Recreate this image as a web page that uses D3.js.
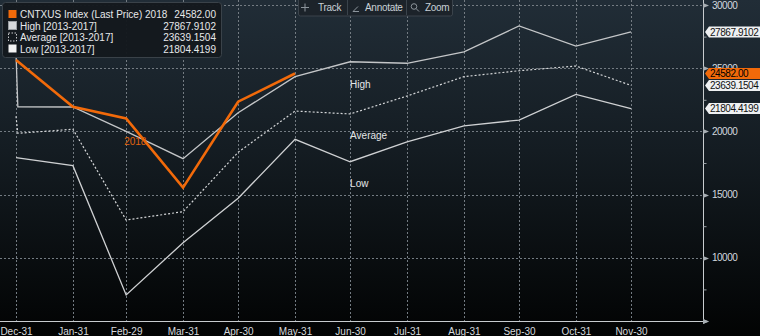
<!DOCTYPE html>
<html>
<head>
<meta charset="utf-8">
<script src="https://cdn.jsdelivr.net/npm/d3@7"></script>
<style>
  html, body { margin: 0; padding: 0; background: #000; }
  svg { display: block; font-family: "Liberation Sans", Arial, sans-serif; }
</style>
</head>
<body>
<svg id="chart" width="760" height="336"></svg>
<script>
// Seasonal comparison: 2018 month-end prices against the 2013-2017 range
const dates = ["2015-12-31", "2016-01-01", "2016-01-31", "2016-02-29", "2016-03-31", "2016-04-30",
               "2016-05-31", "2016-06-30", "2016-07-31", "2016-08-31", "2016-09-30", "2016-10-31", "2016-11-30"];
const tickDates = ["2015-12-31", "2016-01-31", "2016-02-29", "2016-03-31", "2016-04-30", "2016-05-31",
                   "2016-06-30", "2016-07-31", "2016-08-31", "2016-09-30", "2016-10-31", "2016-11-30"];
const tickLabels = ["Dec-31", "Jan-31", "Feb-29", "Mar-31", "Apr-30", "May-31",
                    "Jun-30", "Jul-31", "Aug-31", "Sep-30", "Oct-31", "Nov-30"];
const price2018 = [25650, null, 21950, 21030, 15550, 22350, 24582.00, null, null, null, null, null, null];
const high = [26200, 21950, 21930, 20000, 17840, 21480, 24330, 25510, 25390, 26300, 28340, 26750, 27867.9102];
const average = [21200, 19850, 20170, 12990, 13650, 18350, 21610, 21380, 22800, 24330, 24800, 25170, 23639.1504];
const low = [17920, null, 17290, 7060, 11190, 14710, 19370, 17600, 19180, 20430, 20900, 22930, 21804.4199];
const yTicks = [10000, 15000, 20000, 25000, 30000];
const legendNames = ["CNTXUS Index (Last Price) 2018", "High [2013-2017]", "Average [2013-2017]", "Low [2013-2017]"];
const legendValues = ["24582.00", "27867.9102", "23639.1504", "21804.4199"];

const W = 760, H = 336;
const axisX = 703, axisY = 321;
const parse = d3.utcParse("%Y-%m-%d");
const svg = d3.select("#chart");

const x = d3.scaleUtc().domain([parse(tickDates[0]), parse(tickDates[tickDates.length - 1])]).range([16, 631]);
const y = d3.scaleLinear().domain([5000, 30000]).range([axisY, 5]);

// background
const defs = svg.append("defs");
const grad = defs.append("linearGradient").attr("id", "bg").attr("x1", 0).attr("y1", 0).attr("x2", 0).attr("y2", 1);
grad.append("stop").attr("offset", "0%").attr("stop-color", "#212d37");
grad.append("stop").attr("offset", "45%").attr("stop-color", "#141c22");
grad.append("stop").attr("offset", "100%").attr("stop-color", "#020303");
svg.append("rect").attr("width", W).attr("height", H).attr("fill", "url(#bg)");

// grid
const grid = svg.append("g").attr("stroke", "#737b82").attr("stroke-width", 1).attr("stroke-dasharray", "2,2");
grid.selectAll("line.h").data(yTicks).join("line")
  .attr("x1", 0).attr("x2", axisX).attr("y1", d => Math.round(y(d)) + 0.5).attr("y2", d => Math.round(y(d)) + 0.5);
grid.selectAll("line.v").data(tickDates).join("line")
  .attr("y1", 0).attr("y2", axisY).attr("x1", d => Math.round(x(parse(d))) + 0.5).attr("x2", d => Math.round(x(parse(d))) + 0.5);

// series lines
function series(values) {
  return dates.map((d, i) => ({ date: parse(d), v: values[i] })).filter(p => p.v != null);
}
const line = d3.line().x(d => x(d.date)).y(d => y(d.v));
svg.append("path").datum(series(low)).attr("d", line)
  .attr("fill", "none").attr("stroke", "#cfd1d3").attr("stroke-width", 1.3);
svg.append("path").datum(series(average)).attr("d", line)
  .attr("fill", "none").attr("stroke", "#d4d6d8").attr("stroke-width", 1.2).attr("stroke-dasharray", "2,2");
svg.append("path").datum(series(high)).attr("d", line)
  .attr("fill", "none").attr("stroke", "#c4c6c8").attr("stroke-width", 1.3);
svg.append("path").datum(series(price2018)).attr("d", line)
  .attr("fill", "none").attr("stroke", "#f26a0a").attr("stroke-width", 2.6).attr("stroke-linejoin", "miter");

// inline labels
const lbl = svg.append("g").attr("font-size", "10px");
lbl.append("text").attr("x", x(parse("2016-06-30"))).attr("y", y(23700)).attr("dy", "0.35em").attr("fill", "#e4e6e8").text("High");
lbl.append("text").attr("x", x(parse("2016-06-30"))).attr("y", y(19650)).attr("dy", "0.35em").attr("fill", "#e4e6e8").text("Average");
lbl.append("text").attr("x", x(parse("2016-06-30"))).attr("y", y(15850)).attr("dy", "0.35em").attr("fill", "#e4e6e8").text("Low");
lbl.append("text").attr("x", x(parse("2016-02-29")) - 2).attr("y", y(19200)).attr("dy", "0.35em").attr("fill", "#e0640e").text("2018");

// axes
const axes = svg.append("g");
axes.append("line").attr("x1", 0).attr("x2", axisX).attr("y1", axisY + 0.5).attr("y2", axisY + 0.5).attr("stroke", "#c8cccf");
axes.append("line").attr("x1", axisX + 0.5).attr("x2", axisX + 0.5).attr("y1", 0).attr("y2", axisY + 1).attr("stroke", "#c8cccf");
axes.append("path").attr("d", `M${axisX},${axisY - 2}L${axisX + 6},${axisY + 0.5}L${axisX},${axisY + 3}Z`).attr("fill", "#9aa0a5");

const yAxis = d3.axisRight(y).tickValues(d3.range(7500, 30000, 2500)).tickSize(3).tickFormat("");
axes.append("g").attr("transform", `translate(${axisX + 0.5},0)`).call(yAxis)
  .call(g => g.select(".domain").remove())
  .call(g => g.selectAll("line").attr("stroke", "#9aa0a5"));

axes.selectAll("path.tri").data([5000].concat(yTicks)).join("path")
  .attr("d", d => { const yy = Math.round(y(d)) + 0.5; return `M${axisX},${yy - 2.5}L${axisX + 6},${yy}L${axisX},${yy + 2.5}Z`; })
  .attr("fill", "#a8aeb3");

axes.selectAll("text.yl").data(yTicks).join("text")
  .attr("x", 712).attr("y", d => y(d)).attr("dy", "0.35em")
  .attr("fill", "#d2d8de").attr("font-size", "10px").attr("letter-spacing", "-0.5px").text(d => d);

const xAxis = d3.axisBottom(x).tickValues(tickDates.map(parse)).tickSize(0)
  .tickFormat((d, i) => tickLabels[i]);
axes.append("g").attr("transform", `translate(0,${axisY + 1})`).call(xAxis)
  .call(g => g.select(".domain").remove())
  .call(g => g.selectAll("text").attr("fill", "#d6d9dc").attr("font-size", "10px")
    .attr("font-family", "Liberation Sans, Arial, sans-serif").attr("dy", "0.95em"));

// last-value tags
const tags = [
  { v: 27867.9102, text: legendValues[1], fill: "#eef0f2", color: "#111" },
  { v: 24582.00, text: legendValues[0], fill: "#f26a0a", color: "#000" },
  { v: 23639.1504, text: legendValues[2], fill: "#eef0f2", color: "#111" },
  { v: 21804.4199, text: legendValues[3], fill: "#eef0f2", color: "#111" }
];
const tg = svg.append("g");
tags.forEach(t => {
  const yy = y(t.v);
  tg.append("path")
    .attr("d", `M${axisX + 2},${yy}L${axisX + 6},${yy - 5.5}L${W},${yy - 5.5}L${W},${yy + 5.5}L${axisX + 6},${yy + 5.5}Z`)
    .attr("fill", t.fill);
  tg.append("text").attr("x", axisX + 7).attr("y", yy).attr("dy", "0.36em")
    .attr("font-size", "10px").attr("letter-spacing", "-0.45px").attr("fill", t.color).text(t.text);
});

// toolbar
const tb = svg.append("g");
tb.append("rect").attr("x", 298.5).attr("y", -2).attr("width", 154).attr("height", 18).attr("rx", 2)
  .attr("fill", "#1c232a").attr("stroke", "#3a434b");
tb.append("line").attr("x1", 347.5).attr("x2", 347.5).attr("y1", 0).attr("y2", 15).attr("stroke", "#3a434b");
tb.append("line").attr("x1", 406.5).attr("x2", 406.5).attr("y1", 0).attr("y2", 15).attr("stroke", "#3a434b");
tb.append("path").attr("d", "M305,3.5V11.5M301,7.5H309").attr("stroke", "#8c949b").attr("stroke-width", 1);
tb.append("path").attr("d", "M353,11.5L358,6.5M353,11.5H359").attr("stroke", "#8c949b").attr("stroke-width", 1).attr("fill", "none");
tb.append("circle").attr("cx", 414).attr("cy", 6.5).attr("r", 2.8).attr("stroke", "#8c949b").attr("fill", "none");
tb.append("path").attr("d", "M416,8.5L419,11.5").attr("stroke", "#8c949b");
[["Track", 318], ["Annotate", 365], ["Zoom", 425]].forEach(([s, xx]) =>
  tb.append("text").attr("x", xx).attr("y", 7.5).attr("dy", "0.35em").attr("font-size", "10px")
    .attr("letter-spacing", "-0.3px").attr("fill", "#c8d0d6").text(s));

// legend
const lg = svg.append("g");
lg.append("rect").attr("x", 2.5).attr("y", 2.5).attr("width", 219).attr("height", 55).attr("rx", 3)
  .attr("fill", "#14191e").attr("fill-opacity", 0.97).attr("stroke", "#3a4249");
const rowY = [14.5, 26, 37.5, 49];
legendNames.forEach((n, i) => {
  const yy = rowY[i];
  const sw = lg.append("rect").attr("x", 8.5).attr("y", yy - 4.5).attr("width", 8).attr("height", 8);
  if (i === 0) sw.attr("fill", "#f26a0a");
  else if (i === 1) sw.attr("fill", "#d6d8da").attr("stroke", "#9a9ea2");
  else if (i === 2) sw.attr("fill", "none").attr("stroke", "#c8cacc").attr("stroke-dasharray", "1.5,1.5");
  else sw.attr("fill", "#f4f4f4");
  lg.append("text").attr("x", 20).attr("y", yy).attr("dy", "0.36em").attr("font-size", "10px")
    .attr("fill", "#e6e8ea").text(n);
  lg.append("text").attr("x", 216).attr("y", yy).attr("dy", "0.36em").attr("font-size", "10px")
    .attr("text-anchor", "end").attr("fill", "#e6e8ea").text(legendValues[i]);
});
</script>
</body>
</html>
